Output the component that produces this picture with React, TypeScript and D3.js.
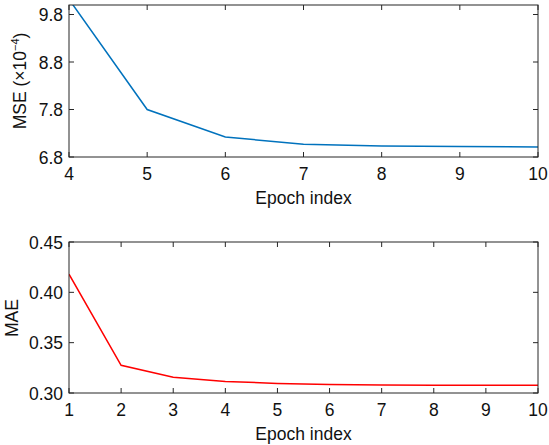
import React from "react";
import * as d3 from "d3";

const mseEpochs = [4, 5, 6, 7, 8, 9, 10];
const mseValues = [10.12, 7.8, 7.22, 7.07, 7.03, 7.02, 7.01];
const mseTicks = [6.8, 7.8, 8.8, 9.8];
const mseXTicks = [4, 5, 6, 7, 8, 9, 10];

const maeEpochs = [1, 2, 3, 4, 5, 6, 7, 8, 9, 10];
const maeValues = [0.418, 0.3275, 0.3156, 0.3115, 0.3095, 0.3085, 0.308, 0.3078, 0.3077, 0.3077];
const maeTicks = [0.3, 0.35, 0.4, 0.45];
const maeXTicks = [1, 2, 3, 4, 5, 6, 7, 8, 9, 10];

const FONT = "'Liberation Sans', Arial, sans-serif";
const AX = "#262626";
const FS = 17.5;

type PanelProps = {
  id: string;
  xs: number[];
  ys: number[];
  xDomain: [number, number];
  yDomain: [number, number];
  xTicks: number[];
  yTicks: number[];
  yFmt: (v: number) => string;
  top: number;
  bottom: number;
  color: string;
  yLabel: React.ReactNode;
  yLabelX: number;
  yLabelY: number;
};

function Panel(p: PanelProps) {
  const left = 69, right = 538;
  const x = d3.scaleLinear().domain(p.xDomain).range([left, right]);
  const y = d3.scaleLinear().domain(p.yDomain).range([p.bottom, p.top]);
  const line = d3.line<number>().x((_, i) => x(p.xs[i])).y((d) => y(d));
  const tl = 5;
  return (
    <g>
      <defs>
        <clipPath id={p.id}>
          <rect x={left} y={p.top} width={right - left} height={p.bottom - p.top} />
        </clipPath>
      </defs>
      <path d={line(p.ys) || ""} fill="none" stroke={p.color} strokeWidth={1.5} clipPath={`url(#${p.id})`} />
      <rect x={left} y={p.top} width={right - left} height={p.bottom - p.top} fill="none" stroke={AX} strokeWidth={1} />
      {p.xTicks.map((t) => (
        <g key={"x" + t}>
          <line x1={x(t)} x2={x(t)} y1={p.bottom} y2={p.bottom - tl} stroke={AX} />
          <line x1={x(t)} x2={x(t)} y1={p.top} y2={p.top + tl} stroke={AX} />
          <text x={x(t)} y={p.bottom + 23} textAnchor="middle" fontSize={FS} fontFamily={FONT} fill="#111">
            {t}
          </text>
        </g>
      ))}
      {p.yTicks.map((t) => (
        <g key={"y" + t}>
          <line x1={left} x2={left + tl} y1={y(t)} y2={y(t)} stroke={AX} />
          <line x1={right} x2={right - tl} y1={y(t)} y2={y(t)} stroke={AX} />
          <text x={left - 6} y={y(t) + 6.5} textAnchor="end" fontSize={FS} fontFamily={FONT} fill="#111">
            {p.yFmt(t)}
          </text>
        </g>
      ))}
      <text x={(left + right) / 2} y={p.bottom + 47} textAnchor="middle" fontSize={FS} fontFamily={FONT} fill="#111">
        Epoch index
      </text>
      <text
        transform={`translate(${p.yLabelX},${p.yLabelY}) rotate(-90)`}
        textAnchor="middle"
        fontSize={FS}
        fontFamily={FONT}
        fill="#111"
      >
        {p.yLabel}
      </text>
    </g>
  );
}

export default function App() {
  return (
    <svg width={549} height={445} style={{ position: "absolute", left: 0, top: 0, background: "#fff" }}>
      <rect width={549} height={445} fill="#fff" />
      <Panel
        id="c1"
        xs={mseEpochs}
        ys={mseValues}
        xDomain={[4, 10]}
        yDomain={[6.8, 10.0]}
        xTicks={mseXTicks}
        yTicks={mseTicks}
        yFmt={(v) => v.toFixed(1)}
        top={5}
        bottom={157}
        color="#0072BD"
        yLabel={
          <>
            MSE (×10
            <tspan dy={-7} fontSize={11}>−4</tspan>
            <tspan dy={7}>)</tspan>
          </>
        }
        yLabelX={26}
        yLabelY={81}
      />
      <Panel
        id="c2"
        xs={maeEpochs}
        ys={maeValues}
        xDomain={[1, 10]}
        yDomain={[0.3, 0.45]}
        xTicks={maeXTicks}
        yTicks={maeTicks}
        yFmt={(v) => v.toFixed(2)}
        top={242}
        bottom={393}
        color="#FF0000"
        yLabel="MAE"
        yLabelX={18}
        yLabelY={318}
      />
    </svg>
  );
}
